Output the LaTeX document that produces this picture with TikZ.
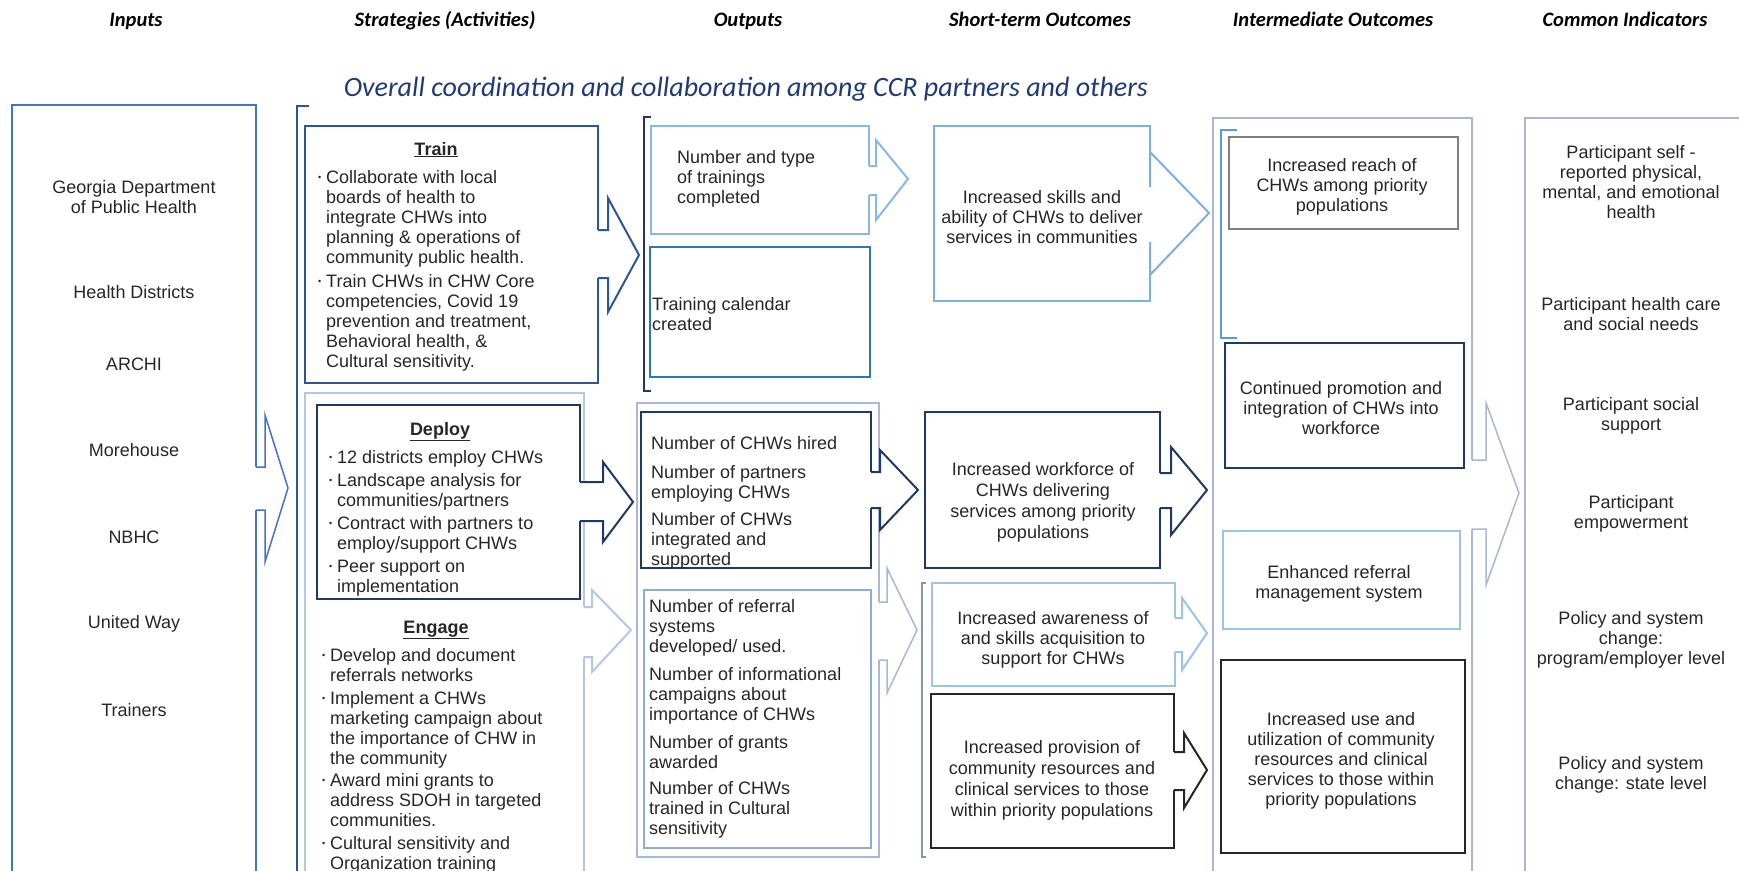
\documentclass[tikz,border=0pt]{standalone}
\usepackage{fontspec}
\setmainfont{Liberation Sans}
\newfontfamily\calibfont{Carlito}
\definecolor{cInp}{HTML}{4472C4}
\definecolor{cMid}{HTML}{2F5597}
\definecolor{cNavy}{HTML}{203864}
\definecolor{cPale}{HTML}{B4C7E7}
\definecolor{cSky}{HTML}{8AB8E6}
\definecolor{cCal}{HTML}{2E75B6}
\definecolor{cSkill}{HTML}{7FAFE0}
\definecolor{cGrp}{HTML}{A9B8D6}
\definecolor{cRef}{HTML}{8FAADC}
\definecolor{cAw}{HTML}{9DC3E6}
\definecolor{cDark}{HTML}{262626}
\definecolor{cGray}{HTML}{7F7F7F}
\definecolor{cBr}{HTML}{5B9BD5}
\definecolor{cSlate}{HTML}{8497B0}
\definecolor{cTitle}{HTML}{203A78}
\definecolor{cText}{HTML}{262626}
\newcommand\bulx{\makebox[8pt][l]{\raisebox{2.5pt}{\fontsize{9}{9}\selectfont\textbullet}}}
\newcommand\indx{\hspace*{8pt}}
\newcommand\blockarrow[9]{%
 \fill[white] ({#2-1.6},#4) -- (#3,#4) -- (#3,#6) -- (#8,#9) -- (#3,#7) -- (#3,#5) -- ({#2-1.6},#5) -- cycle;
 \draw[#1] (#2,#4) -- (#3,#4) -- (#3,#6) -- (#8,#9) -- (#3,#7) -- (#3,#5) -- (#2,#5);}
\begin{document}
\begin{tikzpicture}[x=1pt,y=-1pt,
 txt/.style={font=\fontsize{18}{20}\selectfont, text=cText, inner sep=0pt},
 ctxt/.style={txt, align=center, anchor=north},
 ltxt/.style={txt, align=left, anchor=north west},
 stxt/.style={txt, anchor=base},
 hdr/.style={font=\calibfont\bfseries\itshape\fontsize{20.5}{24}\selectfont, inner sep=0pt, anchor=base},
 heavy/.style={line width=2pt},
 lite/.style={line width=1.5pt}]
\useasboundingbox (0,0) rectangle (1739,870);
\clip (0,0) rectangle (1739,870);

% headers
\node[hdr] (h1) at (136,26) {Inputs};
\node[hdr] (h2) at (445,26) {Strategies (Activities)};
\node[hdr] (h3) at (748,26) {Outputs};
\node[hdr] (h4) at (1040,26) {Short-term Outcomes};
\node[hdr] (h5) at (1333,26) {Intermediate Outcomes};
\node[hdr] (h6) at (1625,26) {Common Indicators};
\node[font=\calibfont\itshape\fontsize{28}{32}\selectfont, text=cTitle, inner sep=0pt, anchor=base] (sub) at (746,96) {Overall coordination and collaboration among CCR partners and others};

% boxes and brackets
\draw[lite, cInp] (12,105) rectangle (256,880);
\draw[lite, cMid] (309,106) -- (297,106) -- (297,880);
\draw[heavy, cMid] (305,126) rectangle (598,383);
\draw[heavy, cPale] (305,393) rectangle (584,880);
\draw[heavy, cNavy] (317,405) rectangle (580,599);

\draw[lite, cNavy] (651,117) -- (644,117) -- (644,391) -- (651,391);
\draw[heavy, cSky] (651,126) rectangle (869,234);
\draw[heavy, cCal] (650,247) rectangle (870,377);
\draw[heavy, cSkill] (934,126) rectangle (1150,301);
\draw[lite, cGrp] (637,403) rectangle (879,857);
\draw[heavy, cNavy] (641,412) rectangle (871,568);
\draw[heavy, cRef] (644,590) rectangle (871,848);

\draw[heavy, cNavy] (925,412) rectangle (1160,568);
\draw[lite, cSlate] (926,583) -- (922,583) -- (922,857) -- (926,857);
\draw[heavy, cAw] (932,583) rectangle (1175,686);
\draw[heavy, cDark] (931,694) rectangle (1174,848);

\draw[lite, cGrp] (1213,118) rectangle (1472,880);
\draw[lite, cBr] (1237,130) -- (1221,130) -- (1221,338) -- (1237,338);
\draw[heavy, cGray] (1229,137) rectangle (1458,229);
\draw[heavy, cNavy] (1225,343) rectangle (1464,468);
\draw[heavy, cAw] (1223,531) rectangle (1460,629);
\draw[heavy, cDark] (1221,660) rectangle (1465,853);

\draw[lite, cGrp] (1525,118) rectangle (1760,880);

% block arrows
\blockarrow{lite, cInp}{256}{265}{467}{510}{415}{562}{288}{488}
\blockarrow{heavy, cMid}{598}{608}{230}{278}{198}{312}{639}{255}
\blockarrow{heavy, cNavy}{580}{603}{482}{521}{462}{542}{633}{502}
\blockarrow{heavy, cPale}{584}{592}{607}{657}{590}{672}{631}{630}
\blockarrow{heavy, cSky}{869}{876}{166}{195}{140}{220}{908}{179}
\blockarrow{heavy, cSkill}{1150}{1150}{187}{242}{152}{275}{1209}{213}
\blockarrow{heavy, cNavy}{871}{880}{472}{508}{450}{530}{918}{490}
\blockarrow{lite, cGrp}{879}{887}{602}{660}{568}{693}{917}{630}
\blockarrow{heavy, cNavy}{1160}{1171}{473}{508}{447}{535}{1207}{490}
\blockarrow{heavy, cAw}{1175}{1182}{618}{652}{598}{670}{1207}{633}
\blockarrow{heavy, cDark}{1174}{1184}{752}{790}{733}{808}{1207}{770}
\blockarrow{lite, cGrp}{1472}{1486}{460}{529}{403}{585}{1519}{493}

% inputs
\node[ctxt] (in1) at (134,180) {Georgia Department\\of Public Health};
\node[stxt] (in2) at (134,298) {Health Districts};
\node[stxt] (in3) at (134,370) {ARCHI};
\node[stxt] (in4) at (134,456) {Morehouse};
\node[stxt] (in5) at (134,543) {NBHC};
\node[stxt] (in6) at (134,628) {United Way};
\node[stxt] (in7) at (134,716) {Trainers};

% strategies
\node[stxt, font=\bfseries\fontsize{18}{20}\selectfont] (trT) at (436,155) {\underline{Train}};
\node[ltxt] (trB) at (318,170) {\bulx Collaborate with local\\
\indx boards of health to\\
\indx integrate CHWs into\\
\indx planning \& operations of\\
\indx community public health.\\[4pt]
\bulx Train CHWs in CHW Core\\
\indx competencies, Covid 19\\
\indx prevention and treatment,\\
\indx Behavioral health, \&\\
\indx Cultural sensitivity.};
\node[stxt, font=\bfseries\fontsize{18}{20}\selectfont] (dpT) at (440,435) {\underline{Deploy}};
\node[ltxt] (dpB) at (329,450) {\bulx 12 districts employ CHWs\\[3pt]
\bulx Landscape analysis for\\
\indx communities/partners\\[3pt]
\bulx Contract with partners to\\
\indx employ/support CHWs\\[3pt]
\bulx Peer support on\\
\indx implementation};
\node[stxt, font=\bfseries\fontsize{18}{20}\selectfont] (enT) at (436,633) {\underline{Engage}};
\node[ltxt] (enB) at (322,648) {\bulx Develop and document\\
\indx referrals networks\\[3pt]
\bulx Implement a CHWs\\
\indx marketing campaign about\\
\indx the importance of CHW in\\
\indx the community\\[2pt]
\bulx Award mini grants to\\
\indx address SDOH in targeted\\
\indx communities.\\[3pt]
\bulx Cultural sensitivity and\\
\indx Organization training};

% outputs
\node[ltxt] (o1) at (677,150) {Number and type\\of trainings\\completed};
\node[ltxt] (o2) at (652,297) {Training calendar\\created};
\node[ltxt] (o3) at (651,436) {Number of CHWs hired\\[9pt]
Number of partners\\employing CHWs\\[7pt]
Number of CHWs\\integrated and\\supported};
\node[ltxt] (o4) at (649,599) {Number of referral\\systems\\developed/ used.\\[8pt]
Number of informational\\campaigns about\\importance of CHWs\\[8pt]
Number of grants\\awarded\\[6pt]
Number of CHWs\\trained in Cultural\\sensitivity};

% short-term
\node[ctxt] (s1) at (1042,190) {Increased skills and\\ability of CHWs to deliver\\services in communities};
\node[ctxt] (s2) at (1043,462) {Increased workforce of\\[1pt]CHWs delivering\\[1pt]services among priority\\[1pt]populations};
\node[ctxt] (s3) at (1053,611) {Increased awareness of\\and skills acquisition to\\support for CHWs};
\node[ctxt] (s4) at (1052,740) {Increased provision of\\[1pt]community resources and\\[1pt]clinical services to those\\[1pt]within priority populations};

% intermediate
\node[ctxt] (m1) at (1342,158) {Increased reach of\\CHWs among priority\\populations};
\node[ctxt] (m2) at (1341,381) {Continued promotion and\\integration of CHWs into\\workforce};
\node[ctxt] (m3) at (1339,565) {Enhanced referral\\management system};
\node[ctxt] (m4) at (1341,712) {Increased use and\\utilization of community\\resources and clinical\\services to those within\\priority populations};

% common indicators
\node[ctxt] (c1) at (1631,145) {Participant self -\\reported physical,\\mental, and emotional\\health};
\node[ctxt] (c2) at (1631,297) {Participant health care\\and social needs};
\node[ctxt] (c3) at (1631,397) {Participant social\\support};
\node[ctxt] (c4) at (1631,495) {Participant\\empowerment};
\node[ctxt] (c5) at (1631,611) {Policy and system\\change:\\program/employer level};
\node[ctxt] (c6) at (1631,756) {Policy and system\\change: state level};
\end{tikzpicture}
\end{document}
